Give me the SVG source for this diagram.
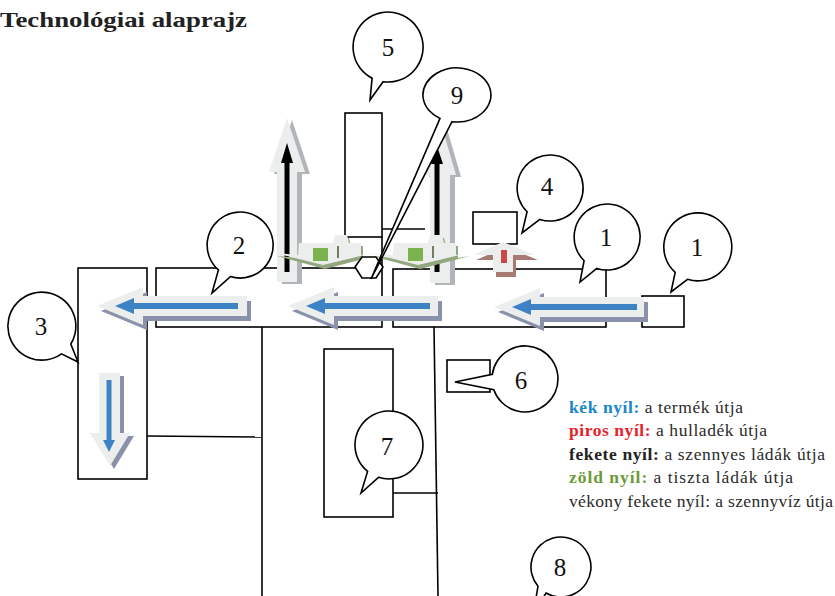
<svg xmlns="http://www.w3.org/2000/svg" width="835" height="596" viewBox="0 0 835 596">
<style>
.bx{fill:none;stroke:#000;stroke-width:1.6}
.ln{fill:none;stroke:#000;stroke-width:1.6}
.bub{fill:#fff;stroke:#000;stroke-width:1.6;stroke-linejoin:miter}
.num{font-family:"Liberation Serif","Times New Roman",serif;font-size:25px;text-anchor:middle;fill:#111}
.lt{fill:#eceeee}
.bsh{fill:#8a91aa}
.blue{fill:#3d82c4}
.bline{stroke:#3d82c4;stroke-width:6}
.gsh{fill:#b1b4b9}
.leg{font-family:"Liberation Serif","Times New Roman",serif;font-size:17.5px;fill:#2a2a2a}
</style>
<defs>
<polygon id="harr" points="0,0 46,-19 46,-10 150,-10 150,10 46,10 46,19"/>
<g id="green">
<polygon points="-48,-10 -25,-8 -24,-20 10,-20 12,-28 24,-28 26,-20 38,-20 38,-8 50,-10 0,3" fill="#93a77e" transform="translate(2,3)"/>
<polygon points="-48,-10 -25,-8 -24,-20 10,-20 12,-28 24,-28 26,-20 38,-20 38,-8 50,-10 0,2" class="lt"/>
<rect x="-10" y="-15" width="15" height="13" fill="#7ab24e"/>
<line x1="15" y1="-17" x2="15" y2="-5" stroke="#6f7d62" stroke-width="2"/>
</g>
</defs>

<text x="0" y="27" font-family="'Liberation Serif','Times New Roman',serif" font-weight="bold" font-size="21" fill="#222" textLength="247" lengthAdjust="spacingAndGlyphs">Technológiai alaprajz</text>

<g id="connectors">
<line class="ln" x1="382" y1="237" x2="382" y2="268"/>
<line class="ln" x1="382" y1="229" x2="425" y2="229"/>
<line class="ln" x1="262" y1="327" x2="262" y2="596"/>
<line class="ln" x1="434" y1="327" x2="438" y2="596"/>
<line class="ln" x1="147" y1="436" x2="262" y2="437"/>
<line class="ln" x1="393" y1="493" x2="438" y2="493"/>
</g>

<g id="box3"><rect class="bx" x="78" y="268" width="69" height="211"/></g>
<g id="box2"><rect class="bx" x="156" y="268" width="226" height="59"/></g>
<g id="box1a"><rect class="bx" x="393" y="269" width="213" height="58"/></g>
<g id="box1b"><rect class="bx" x="642" y="296" width="42" height="31"/></g>
<g id="box4"><rect class="bx" x="473" y="212" width="44" height="32"/></g>
<g id="box5"><rect class="bx" x="345" y="113" width="37" height="124"/></g>
<g id="box7"><rect class="bx" x="324" y="349" width="69" height="168"/></g>
<g id="box6"><rect class="bx" x="447" y="360" width="43" height="32"/></g>

<g id="arrows">
<g id="black-left">
<polygon class="gsh" transform="translate(5,2)" points="287,118 305,172 297,172 297,282 277,282 277,172 269,172"/>
<polygon class="lt" points="287,118 305,172 297,172 297,282 277,282 277,172 269,172"/>
<line x1="287" y1="160" x2="287" y2="272" stroke="#000" stroke-width="5"/>
<polygon points="287,143 281,163 293,163" fill="#000"/>
</g>
<g id="black-right">
<polygon class="gsh" transform="translate(5,2)" points="440,120 456,175 450,175 450,283 430,283 430,175 424,175"/>
<polygon class="lt" points="440,120 456,175 450,175 450,283 430,283 430,175 424,175"/>
<line x1="437" y1="160" x2="437" y2="272" stroke="#000" stroke-width="5"/>
<polygon points="437,146 431,164 443,164" fill="#000"/>
</g>
<use href="#green" transform="translate(323,263)"/>
<use href="#green" transform="translate(418,263)"/>
<g id="red">
<polygon points="503,242 535,255 513,255 513,272 493,272 493,255 473,255" fill="#a87a74" transform="translate(3,5)"/>
<polygon points="503,242 535,255 513,255 513,272 493,272 493,255 473,255" class="lt"/>
<rect x="501" y="250" width="6" height="13" fill="#c9484a"/>
</g>
<g id="blue1" transform="translate(97,306)">
<use href="#harr" class="bsh" transform="translate(4,5)"/>
<use href="#harr" class="lt"/>
<line class="bline" x1="36" y1="0" x2="141" y2="0"/>
<polygon class="blue" points="18,0 37,-8 37,8"/>
</g>
<g id="blue2" transform="translate(288,306)">
<use href="#harr" class="bsh" transform="translate(4,5)"/>
<use href="#harr" class="lt"/>
<line class="bline" x1="36" y1="0" x2="142" y2="0"/>
<polygon class="blue" points="18,0 37,-8 37,8"/>
</g>
<g id="blue3" transform="translate(494,307)">
<use href="#harr" class="bsh" transform="translate(4,5)"/>
<use href="#harr" class="lt"/>
<line class="bline" x1="36" y1="0" x2="143" y2="0"/>
<polygon class="blue" points="18,0 37,-8 37,8"/>
</g>
<g id="blue-down">
<polygon class="bsh" transform="translate(4,3)" points="110,466 90,433 99,433 99,373 120,373 120,433 130,433"/>
<polygon class="lt" points="110,466 90,433 99,433 99,373 120,373 120,433 130,433"/>
<line x1="109" y1="380" x2="109" y2="443" stroke="#3d82c4" stroke-width="5"/>
<polygon class="blue" points="109,452 103,440 115,440"/>
</g>
</g>

<g id="hexagon"><polygon class="bub" points="355,267 362,257 376,257 383,267 376,278 362,278"/></g>

<g id="bubble5"><path class="bub" d="M383.1 81.7 A35 35 0 1 0 372.1 78.2 L370 100 Z"/><text class="num" x="388" y="56">5</text></g>
<g id="bubble9"><path class="bub" d="M452 121.7 A34 27 0 1 0 440 118.4 L371 279 Z"/><text class="num" x="457" y="104">9</text></g>
<g id="bubble2"><path class="bub" d="M230.4 276.6 A33 33 0 1 0 218.4 269.9 L212 293 Z"/><text class="num" x="239" y="254">2</text></g>
<g id="bubble3"><path class="bub" d="M70.8 344 A34 34 0 1 0 61.5 353.9 L78 362 Z"/><text class="num" x="41" y="335">3</text></g>
<g id="bubble4"><path class="bub" d="M539.8 219.4 A33 33 0 1 0 527.1 211.7 L522 233 Z"/><text class="num" x="547" y="195">4</text></g>
<g id="bubble1a"><path class="bub" d="M596.8 268.4 A33 33 0 1 0 584.1 260.7 L580 282 Z"/><text class="num" x="606" y="246">1</text></g>
<g id="bubble1b"><path class="bub" d="M687.5 279.3 A34 34 0 1 0 675.2 272.3 L671 292 Z"/><text class="num" x="697" y="256">1</text></g>
<g id="bubble6"><path class="bub" d="M493.8 389.7 A33 33 0 1 0 492.3 374.4 L455 382 Z"/><text class="num" x="521" y="389">6</text></g>
<g id="bubble7"><path class="bub" d="M378.5 477.3 A34 34 0 1 0 367.6 471.4 L361 493 Z"/><text class="num" x="387" y="455">7</text></g>
<g id="bubble8"><path class="bub" d="M546 593 A30 30 0 1 0 538 586.3 L533 615 Z"/><text class="num" x="560" y="576">8</text></g>

<g id="legend">
<text class="leg" x="569" y="413" textLength="174"><tspan font-weight="bold" fill="#1a87c9">kék nyíl:</tspan> a termék útja</text>
<text class="leg" x="569" y="436" textLength="198"><tspan font-weight="bold" fill="#e52329">piros nyíl:</tspan> a hulladék útja</text>
<text class="leg" x="569" y="460" textLength="256"><tspan font-weight="bold" fill="#222">fekete nyíl:</tspan> a szennyes ládák útja</text>
<text class="leg" x="569" y="483" textLength="224"><tspan font-weight="bold" fill="#6e9b3a">zöld nyíl:</tspan> a tiszta ládák útja</text>
<text class="leg" x="569" y="507" textLength="264">vékony fekete nyíl: a szennyvíz útja</text>
</g>
</svg>
